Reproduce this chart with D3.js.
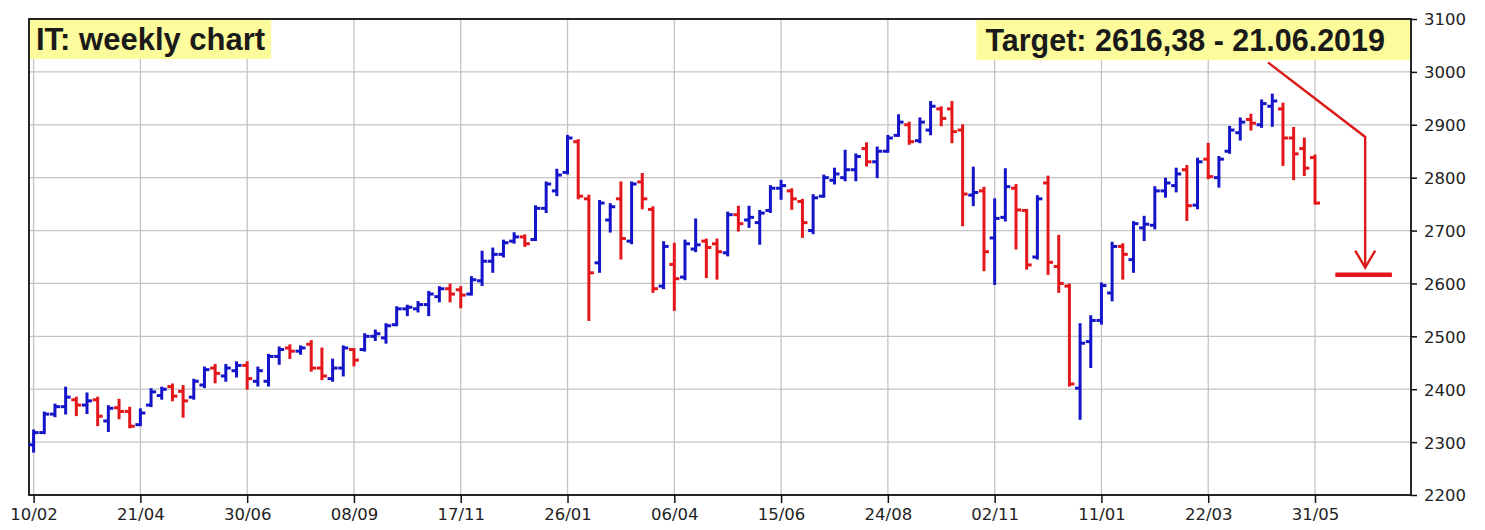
<!DOCTYPE html>
<html>
<head>
<meta charset="utf-8">
<script src="https://cdn.jsdelivr.net/npm/d3@7/dist/d3.min.js"></script>
<style>
  body { margin: 0; background: #fff; }
  text { font-family: "DejaVu Sans", Verdana, sans-serif; }
</style>
</head>
<body>
<svg id="chart" width="1485" height="530"></svg>
<script>
// weekly bars, 10/02/2017 .. 31/05/2019 (one entry per week)
const open  = [2295,2318,2353,2367,2380,2370,2380,2340,2365,2358,
               2333,2370,2388,2405,2396,2385,2408,2440,2425,2435,
               2445,2415,2415,2462,2478,2472,2485,2440,2420,2440,
               2475,2475,2500,2497,2522,2552,2552,2560,2575,2590,
               2588,2580,2605,2642,2655,2680,2688,2683,2742,2775,
               2810,2868,2760,2639,2720,2760,2680,2792,2740,2595,
               2636,2612,2665,2680,2675,2658,2730,2720,2715,2738,
               2780,2775,2755,2700,2765,2795,2800,2815,2855,2830,
               2850,2880,2900,2870,2890,2930,2930,2890,2767,2775,
               2686,2725,2780,2738,2650,2790,2632,2595,2402,2490,
               2530,2582,2670,2645,2705,2710,2775,2785,2815,2748,
               2835,2800,2850,2885,2910,2900,2935,2930,2875,2855,
               2838];
const high  = [2321,2355,2370,2402,2383,2391,2383,2367,2379,2364,
               2361,2399,2402,2408,2405,2417,2440,2445,2445,2450,
               2450,2440,2464,2478,2482,2480,2490,2476,2455,2480,
               2475,2503,2510,2522,2554,2557,2564,2583,2592,2597,
               2592,2611,2659,2665,2680,2694,2690,2745,2790,2814,
               2878,2870,2765,2755,2749,2790,2790,2806,2743,2677,
               2674,2680,2720,2682,2682,2733,2744,2744,2736,2783,
               2793,2777,2757,2766,2803,2816,2850,2843,2864,2856,
               2878,2917,2903,2911,2942,2932,2942,2898,2818,2780,
               2758,2815,2785,2738,2764,2801,2689,2597,2522,2537,
               2599,2676,2673,2715,2725,2781,2797,2816,2821,2835,
               2863,2838,2895,2911,2918,2945,2956,2939,2893,2873,
               2841];
const low   = [2283,2318,2350,2355,2352,2356,2333,2322,2346,2329,
               2333,2369,2383,2380,2349,2383,2405,2414,2417,2425,
               2402,2408,2408,2449,2460,2468,2436,2420,2417,2427,
               2446,2474,2494,2489,2522,2541,2548,2541,2567,2567,
               2556,2580,2598,2623,2652,2678,2672,2683,2736,2768,
               2809,2762,2532,2623,2699,2648,2677,2743,2585,2592,
               2551,2609,2662,2613,2610,2654,2701,2708,2676,2736,
               2761,2742,2689,2696,2765,2790,2796,2796,2824,2802,
               2850,2880,2865,2868,2883,2900,2868,2711,2749,2626,
               2600,2720,2667,2629,2648,2619,2585,2408,2345,2443,
               2525,2569,2610,2623,2683,2705,2765,2775,2721,2743,
               2800,2784,2848,2873,2892,2897,2899,2825,2798,2806,
               2752];
const close = [2318,2353,2367,2385,2370,2378,2349,2364,2358,2330,
               2355,2395,2400,2387,2378,2415,2437,2430,2440,2445,
               2420,2435,2462,2475,2472,2478,2440,2425,2440,2478,
               2455,2500,2505,2520,2552,2555,2560,2580,2590,2580,
               2578,2607,2642,2655,2677,2688,2675,2742,2788,2805,
               2875,2765,2620,2752,2745,2685,2788,2760,2590,2670,
               2609,2675,2673,2668,2660,2730,2713,2725,2733,2780,
               2785,2760,2715,2762,2800,2807,2815,2840,2830,2850,
               2875,2905,2868,2905,2935,2912,2887,2769,2772,2660,
               2723,2783,2739,2635,2760,2640,2600,2410,2487,2530,
               2596,2670,2655,2713,2712,2775,2790,2807,2747,2830,
               2802,2835,2890,2905,2903,2940,2945,2875,2845,2818,
               2752];

const tickWeeks  = [0, 10, 20, 30, 40, 50, 60, 70, 80, 90, 100, 110, 120];
const tickLabels = ["10/02","21/04","30/06","08/09","17/11","26/01","06/04",
                    "15/06","24/08","02/11","11/01","22/03","31/05"];
const priceTicks = [2200, 2300, 2400, 2500, 2600, 2700, 2800, 2900, 3000, 3100];

const title = "IT: weekly chart";
const targetPrice = 2616.38;
const targetText = "Target: 2616,38 - 21.06.2019";
// arrow path in (week, price) units
const arrowPts = [[115.6, 3018], [124.7, 2877], [124.7, 2630]];
const targetSpan = [121.9, 127.2];

const bars = open.map((o, i) => ({i, o, h: high[i], l: low[i], c: close[i]}));

const svg = d3.select("#chart");
const frame = {left: 29, right: 1411, top: 19, bottom: 495};

const x = d3.scaleLinear().domain([0, 120]).range([33.6, 1315]);
const y = d3.scaleLinear().domain([2200, 3100]).range([frame.bottom, frame.top]);

const BLUE = "#1414c8", RED = "#e3161b";

// grid
svg.append("g").attr("class", "grid")
  .selectAll("line.v").data(tickWeeks).enter().append("line")
  .attr("x1", d => x(d)).attr("x2", d => x(d))
  .attr("y1", frame.top).attr("y2", frame.bottom)
  .attr("stroke", "#c4c4c4").attr("stroke-width", 1.3);
svg.append("g").attr("class", "grid")
  .selectAll("line.h").data(priceTicks).enter().append("line")
  .attr("x1", frame.left).attr("x2", frame.right)
  .attr("y1", d => y(d)).attr("y2", d => y(d))
  .attr("stroke", "#c4c4c4").attr("stroke-width", 1.3);

// label boxes
const titleG = svg.append("g");
const titleBg = titleG.append("rect").attr("fill", "#fdfc9c");
const titleT = titleG.append("text")
  .attr("x", 36).attr("y", 50)
  .style("font-family", "'Liberation Sans', Arial, sans-serif")
  .style("font-weight", "bold").style("font-size", "31px").attr("fill", "#1a1a1a")
  .text(title);
let bb = titleT.node().getBBox();
titleBg.attr("x", frame.left + 1).attr("y", 20).attr("width", bb.x + bb.width + 5 - frame.left).attr("height", 39);

const tgtG = svg.append("g");
const tgtBg = tgtG.append("rect").attr("fill", "#fdfc9c");
const tgtT = tgtG.append("text")
  .attr("x", 1385).attr("y", 51).attr("text-anchor", "end")
  .style("font-family", "'Liberation Sans', Arial, sans-serif")
  .style("font-weight", "bold").style("font-size", "30.5px").attr("fill", "#1a1a1a")
  .text(targetText);
bb = tgtT.node().getBBox();
tgtBg.attr("x", bb.x - 9).attr("y", 20).attr("width", frame.right - 1 - (bb.x - 9)).attr("height", 40);

// frame
svg.append("rect")
  .attr("x", frame.left).attr("y", frame.top)
  .attr("width", frame.right - frame.left).attr("height", frame.bottom - frame.top)
  .attr("fill", "none").attr("stroke", "#111").attr("stroke-width", 1.8);

// axes
const xAxis = d3.axisBottom(x).tickValues(tickWeeks)
  .tickFormat((d, k) => tickLabels[k]).tickSize(8).tickSizeOuter(0);
const gx = svg.append("g").attr("transform", `translate(0,${frame.bottom})`).call(xAxis);
gx.select(".domain").remove();
gx.selectAll(".tick line").attr("stroke", "#111").attr("stroke-width", 1.5);
gx.selectAll(".tick text").attr("y", 13).attr("dy", "0.71em")
  .style("font-size", "16.5px").attr("fill", "#222");

const yAxis = d3.axisRight(y).tickValues(priceTicks).tickFormat(d3.format("d"))
  .tickSize(6).tickSizeOuter(0);
const gy = svg.append("g").attr("transform", `translate(${frame.right},0)`).call(yAxis);
gy.select(".domain").remove();
gy.selectAll(".tick line").attr("stroke", "#111").attr("stroke-width", 1.5);
gy.selectAll(".tick text").attr("x", 13).attr("dy", "0.36em")
  .style("font-size", "16.5px").attr("fill", "#222");

// OHLC bars
const g = svg.append("g").attr("stroke-width", 3).attr("stroke-linecap", "butt");
const bar = g.selectAll("g.bar").data(bars).enter().append("g")
  .attr("stroke", d => d.c < d.o ? RED : BLUE);
bar.append("line")
  .attr("x1", d => x(d.i)).attr("x2", d => x(d.i))
  .attr("y1", d => y(d.h) - 1.5).attr("y2", d => y(d.l) + 1.5);
bar.append("line")
  .attr("x1", d => x(d.i) - 5).attr("x2", d => x(d.i))
  .attr("y1", d => y(d.o)).attr("y2", d => y(d.o));
bar.append("line")
  .attr("x1", d => x(d.i)).attr("x2", d => x(d.i) + 5)
  .attr("y1", d => y(d.c)).attr("y2", d => y(d.c));

// target arrow
const line = d3.line().x(d => x(d[0])).y(d => y(d[1]));
svg.append("path").attr("d", line(arrowPts))
  .attr("fill", "none").attr("stroke", "#dd1a1a").attr("stroke-width", 2.4);
const tip = arrowPts[arrowPts.length - 1];
svg.append("path")
  .attr("d", d3.line()([[x(tip[0]) - 10, y(tip[1]) - 17], [x(tip[0]), y(tip[1])], [x(tip[0]) + 10, y(tip[1]) - 17]]))
  .attr("fill", "none").attr("stroke", "#dd1a1a").attr("stroke-width", 2.4);
svg.append("line")
  .attr("x1", x(targetSpan[0])).attr("x2", x(targetSpan[1]))
  .attr("y1", y(targetPrice)).attr("y2", y(targetPrice))
  .attr("stroke", "#e8141a").attr("stroke-width", 4.5);
</script>
</body>
</html>
